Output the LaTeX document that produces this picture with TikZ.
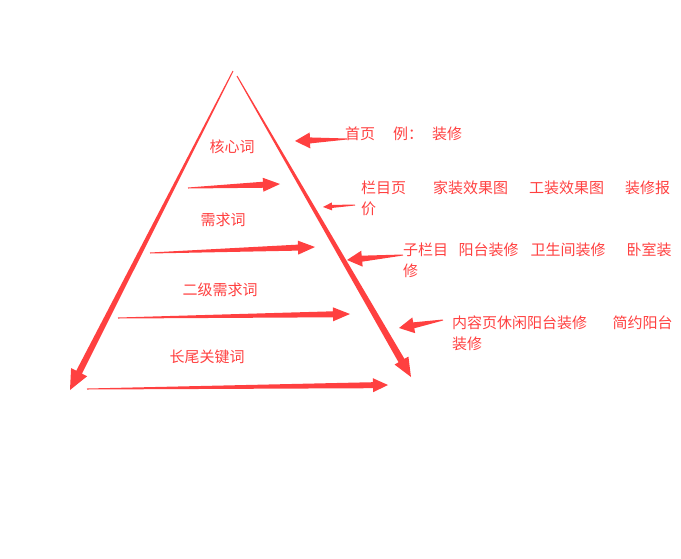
\documentclass[tikz,border=0pt]{standalone}
\usepackage{fontspec}
\newfontfamily\cjk{Noto Sans CJK SC}
\usepackage{tikz}
\usetikzlibrary{calc}
\definecolor{pyred}{RGB}{255,64,64}
% tapered block arrow: tail, tip, shaft half width, head half width, head length
\newcommand{\taperarrow}[5]{%
  \coordinate (hb) at ($(#2)!#5!(#1)$);
  \fill[pyred] ($(#1)!0.5pt!90:(#2)$) -- ($(hb)!#3!90:(#2)$) -- ($(hb)!#4!90:(#2)$)
    -- (#2) -- ($(hb)!#4!-90:(#2)$) -- ($(hb)!#3!-90:(#2)$)
    -- ($(#1)!0.5pt!-90:(#2)$) -- cycle;}
\tikzset{word/.style={text=pyred,inner sep=0pt,font=\cjk\fontsize{15}{21}\selectfont},
  side/.style={word,anchor=north west,align=left}}

\begin{document}
\begin{tikzpicture}[x=1pt,y=-1pt]
  \useasboundingbox (0,0) rectangle (681,558);
  % pyramid sides
  \coordinate (apexl) at (233,71);
  \coordinate (apexr) at (237,76);
  \coordinate (leftend) at (70,390);
  \coordinate (rightend) at (411,377);
  \taperarrow{apexl}{leftend}{3.2pt}{9pt}{20pt}
  \taperarrow{apexr}{rightend}{3.4pt}{8pt}{19pt}
  % levels
  \node[word] (kernel) at (232,147) {核心词};
  \node[word] (demand) at (223,220) {需求词};
  \node[word] (second) at (220,290) {二级需求词};
  \node[word] (longtail) at (207,357) {长尾关键词};
  \coordinate (t1) at (188,188); \coordinate (h1) at (280,184);
  \coordinate (t2) at (150,253); \coordinate (h2) at (315,247);
  \coordinate (t3) at (118,318); \coordinate (h3) at (350,314);
  \coordinate (t4) at (87,389);  \coordinate (h4) at (388,385);
  \taperarrow{t1}{h1}{3pt}{7pt}{17pt}
  \taperarrow{t2}{h2}{3pt}{7pt}{17pt}
  \taperarrow{t3}{h3}{3pt}{7pt}{17pt}
  \taperarrow{t4}{h4}{3pt}{7pt}{15pt}
  % pages
  \node[side] (home) at (345,127) {首页\hspace{1.2em}例：\hspace{0.6em}装修};
  \node[side] (column) at (361,181) {栏目页\hspace{1.8em}家装效果图\hspace{1.4em}工装效果图\hspace{1.4em}装修报\\价};
  \node[side] (subcolumn) at (403,243) {子栏目\hspace{0.7em}阳台装修\hspace{0.8em}卫生间装修\hspace{1.4em}卧室装\\修};
  \node[side] (content) at (452,316) {内容页休闲阳台装修\hspace{1.7em}简约阳台\\装修};
  \coordinate (a1) at (347,139); \coordinate (b1) at (295,141);
  \coordinate (a2) at (355,205); \coordinate (b2) at (323,207);
  \coordinate (a3) at (403,255); \coordinate (b3) at (347,260);
  \coordinate (a4) at (443,320); \coordinate (b4) at (399,328);
  \taperarrow{a1}{b1}{3pt}{8pt}{15pt}
  \taperarrow{a2}{b2}{1.5pt}{4pt}{9pt}
  \taperarrow{a3}{b3}{3pt}{8pt}{15pt}
  \taperarrow{a4}{b4}{3pt}{8pt}{15pt}
\end{tikzpicture}
\end{document}
